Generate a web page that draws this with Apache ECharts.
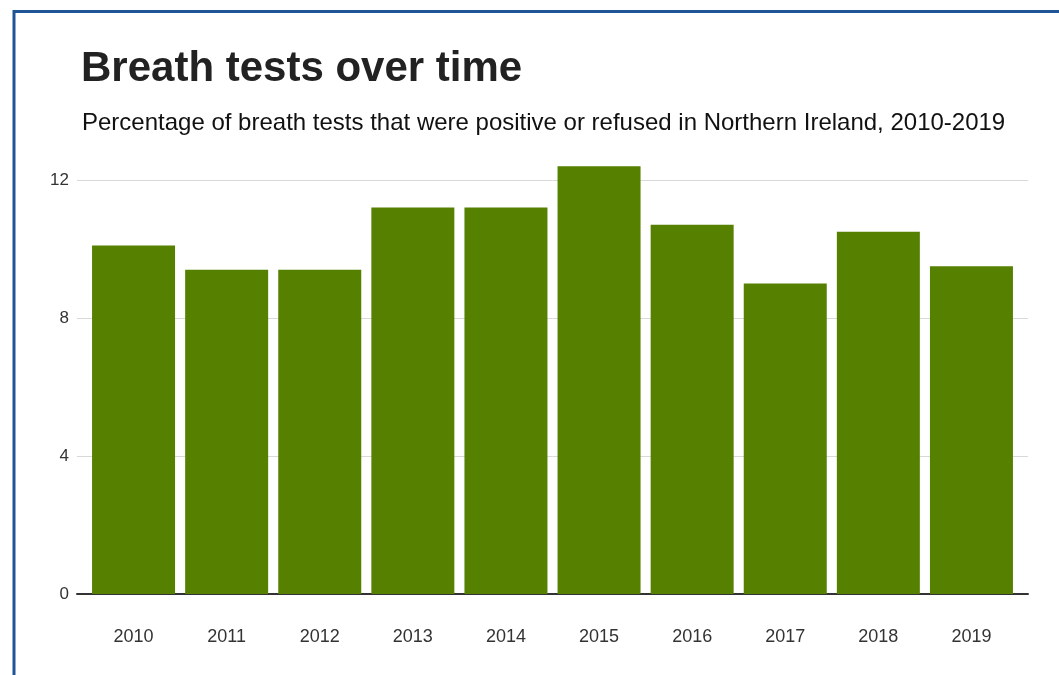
<!DOCTYPE html>
<html>
<head>
<meta charset="utf-8">
<script src="https://cdn.jsdelivr.net/npm/echarts@6/dist/echarts.min.js"></script>
<style>
html,body{margin:0;padding:0;background:#fff;}
#chart{width:1059px;height:675px;}
</style>
</head>
<body>
<div id="chart"></div>
<script>
const years = ['2010','2011','2012','2013','2014','2015','2016','2017','2018','2019'];
const percentPositiveOrRefused = [10.1, 9.4, 9.4, 11.2, 11.2, 12.4, 10.7, 9.0, 10.5, 9.5];
const yTicks = [0, 4, 8, 12];

const chart = echarts.init(document.getElementById('chart'));
const font = '"Liberation Sans", Arial, sans-serif';
chart.setOption({
  animation: false,
  backgroundColor: '#ffffff',
  title: [
    {text: 'Breath tests over time', left: 76, top: 43,
     textStyle: {fontFamily: font, fontSize: 42, fontWeight: 'bold', color: '#222222'}},
    {text: 'Percentage of breath tests that were positive or refused in Northern Ireland, 2010-2019', left: 77, top: 106,
     textStyle: {fontFamily: font, fontSize: 24, fontWeight: 'normal', color: '#111111'}}
  ],
  graphic: [
    {type: 'rect', shape: {x: 14, y: 11.5, width: 1100, height: 700},
     style: {fill: 'none', stroke: '#1f5596', lineWidth: 3}, silent: true}
  ],
  grid: [
    {left: 77, right: 31, top: 180, bottom: 81},
    {left: 87, right: 41, top: 180, bottom: 81}
  ],
  xAxis: [
    {gridIndex: 0, type: 'value', min: 0, max: 1, show: true,
     axisLine: {show: true, lineStyle: {color: '#333333', width: 2}},
     axisTick: {show: false}, axisLabel: {show: false}, splitLine: {show: false}},
    {gridIndex: 1, type: 'category', data: years,
     axisLine: {show: false}, axisTick: {show: false},
     axisLabel: {margin: 34, fontFamily: font, fontSize: 18, color: '#333333'}}
  ],
  yAxis: [
    {gridIndex: 0, type: 'value', min: 0, max: 12, interval: 4,
     axisLine: {show: false}, axisTick: {show: false},
     axisLabel: {margin: 8, fontFamily: font, fontSize: 17, color: '#333333',
       formatter: v => yTicks.includes(v) ? String(v) : ''},
     splitLine: {show: true, lineStyle: {color: '#d9d9d9', width: 1}}},
    {gridIndex: 1, type: 'value', min: 0, max: 12, interval: 4, show: false}
  ],
  series: [
    {type: 'bar', xAxisIndex: 1, yAxisIndex: 1, data: percentPositiveOrRefused,
     barWidth: 83, clip: false, itemStyle: {color: '#568000'}, z: 3}
  ]
});
</script>
</body>
</html>
